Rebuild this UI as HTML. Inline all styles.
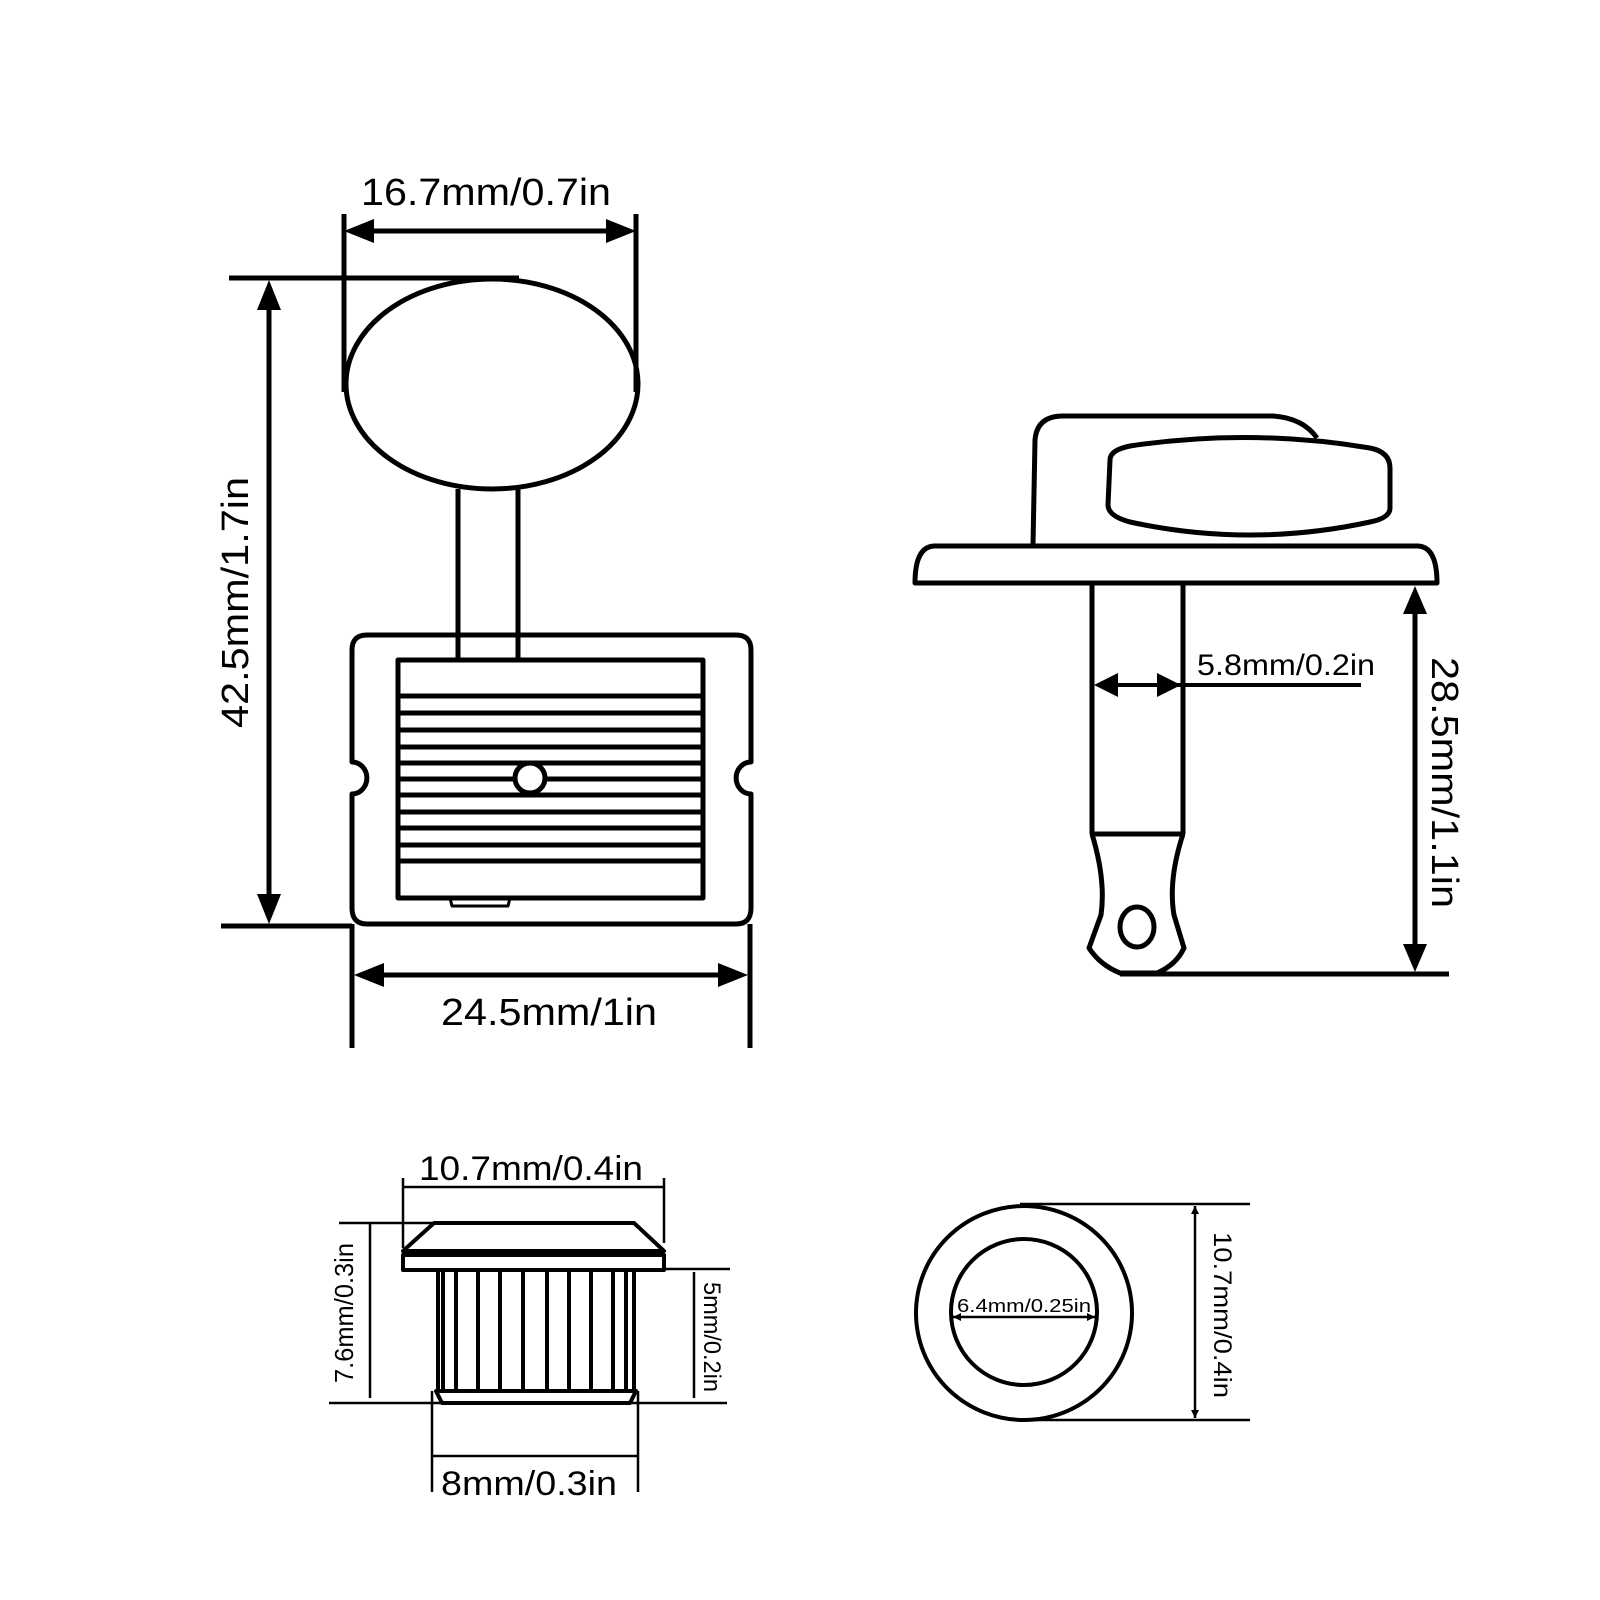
<!DOCTYPE html>
<html><head><meta charset="utf-8"><style>html,body{margin:0;padding:0;background:#fff}svg{display:block}text{font-family:"Liberation Sans","DejaVu Sans",sans-serif;fill:#000}</style></head>
<body>
<svg width="1600" height="1600" viewBox="0 0 1600 1600" xmlns="http://www.w3.org/2000/svg">
<rect width="1600" height="1600" fill="#fff"/>
<g fill="none" stroke="#000" stroke-width="5" stroke-linejoin="round">
  <!-- ===== Front view ===== -->
  <!-- top width dim -->
  <line x1="344" y1="214" x2="344" y2="392"/>
  <line x1="636" y1="214" x2="636" y2="392"/>
  <line x1="360" y1="231" x2="620" y2="231"/>
  <!-- height dim -->
  <line x1="229" y1="278" x2="519" y2="278"/>
  <line x1="221" y1="926" x2="352" y2="926"/>
  <line x1="269" y1="300" x2="269" y2="904"/>
  <!-- knob -->
  <ellipse cx="492" cy="384" rx="146" ry="105"/>
  <!-- stem -->
  <line x1="458" y1="489" x2="458" y2="660"/>
  <line x1="518" y1="489" x2="518" y2="660"/>
  <!-- plate with notches -->
  <path d="M367,635 L736,635 Q751,635 751,650 L751,762 A13,14 0 0 0 751,794 L751,908 Q751,924 736,924 L367,924 Q352,924 352,908 L352,794 A13,14 0 0 0 352,762 L352,650 Q352,635 367,635 Z"/>
  <rect x="398" y="660" width="305" height="238"/>
  <path d="M450,898 L452,906 L508,906 L510,898" stroke-width="3"/>
  <!-- bottom width dim -->
  <line x1="352" y1="924" x2="352" y2="1048"/>
  <line x1="750" y1="924" x2="750" y2="1048"/>
  <line x1="370" y1="975" x2="732" y2="975"/>
</g>
<g stroke="#000" stroke-width="5">
  <line x1="398" y1="696" x2="703" y2="696"/>
  <line x1="398" y1="713" x2="703" y2="713"/>
  <line x1="398" y1="730" x2="703" y2="730"/>
  <line x1="398" y1="747" x2="703" y2="747"/>
  <line x1="398" y1="763" x2="703" y2="763"/>
  <line x1="398" y1="779" x2="703" y2="779"/>
  <line x1="398" y1="795" x2="703" y2="795"/>
  <line x1="398" y1="812" x2="703" y2="812"/>
  <line x1="398" y1="828" x2="703" y2="828"/>
  <line x1="398" y1="845" x2="703" y2="845"/>
  <line x1="398" y1="861" x2="703" y2="861"/>
</g>
<circle cx="530" cy="778" r="15" fill="#fff" stroke="#000" stroke-width="5"/>
<g fill="#000">
  <polygon points="344,231 374,219 374,243"/>
  <polygon points="636,231 606,219 606,243"/>
  <polygon points="269,280 257,310 281,310"/>
  <polygon points="269,924 257,894 281,894"/>
  <polygon points="354,975 384,963 384,987"/>
  <polygon points="748,975 718,963 718,987"/>
</g>
<text x="361" y="205" font-size="38" textLength="250" lengthAdjust="spacingAndGlyphs">16.7mm/0.7in</text>
<text x="441" y="1025" font-size="38" textLength="216" lengthAdjust="spacingAndGlyphs">24.5mm/1in</text>
<text transform="translate(248,728) rotate(-90)" font-size="38" textLength="251" lengthAdjust="spacingAndGlyphs">42.5mm/1.7in</text>

<!-- ===== Side view ===== -->
<g fill="none" stroke="#000" stroke-width="5" stroke-linejoin="round">
  <path d="M1033,545 L1035,440 Q1037,416 1063,416 L1273,416 Q1303,418 1317,438"/>
  <path d="M1110,460 Q1110,450 1130,446 Q1250,428 1370,448 Q1390,452 1390,468 L1390,508 Q1390,518 1370,522 Q1250,548 1130,522 Q1108,516 1108,505 Z" fill="#fff"/>
  <path d="M915,583 L1437,583 Q1437,546 1417,546 L935,546 Q915,546 915,583 Z"/>
  <line x1="1092" y1="584" x2="1092" y2="834"/>
  <line x1="1183" y1="584" x2="1183" y2="834"/>
  <line x1="1090" y1="834" x2="1185" y2="834"/>
  <path d="M1092,834 Q1106,880 1101,915 L1089,948 Q1100,965 1120,973 L1157,973 Q1176,965 1184,948 L1174,915 Q1168,880 1183,834"/>
  <ellipse cx="1137" cy="927" rx="17" ry="20"/>
  <line x1="1120" y1="974" x2="1449" y2="974"/>
  <line x1="1415" y1="605" x2="1415" y2="952"/>
</g>
<line x1="1100" y1="685" x2="1361" y2="685" stroke="#000" stroke-width="4"/>
<g fill="#000">
  <polygon points="1094,685 1118,673 1118,697"/>
  <polygon points="1181,685 1157,673 1157,697"/>
  <polygon points="1415,586 1403,614 1427,614"/>
  <polygon points="1415,972 1403,944 1427,944"/>
</g>
<text x="1197" y="675" font-size="30" textLength="178" lengthAdjust="spacingAndGlyphs">5.8mm/0.2in</text>
<text transform="translate(1432,657) rotate(90)" font-size="38" textLength="251" lengthAdjust="spacingAndGlyphs">28.5mm/1.1in</text>

<!-- ===== Bushing ===== -->
<g fill="none" stroke="#000" stroke-width="2.5">
  <line x1="403" y1="1178" x2="403" y2="1248"/>
  <line x1="664" y1="1178" x2="664" y2="1243"/>
  <line x1="403" y1="1187" x2="664" y2="1187"/>
  <line x1="339" y1="1223" x2="432" y2="1223"/>
  <line x1="370" y1="1223" x2="370" y2="1398"/>
  <line x1="329" y1="1403" x2="727" y2="1403"/>
  <line x1="664" y1="1269" x2="730" y2="1269"/>
  <line x1="694" y1="1272" x2="694" y2="1398"/>
  <line x1="432" y1="1391" x2="432" y2="1492"/>
  <line x1="638" y1="1391" x2="638" y2="1492"/>
  <line x1="432" y1="1456" x2="638" y2="1456"/>
</g>
<g fill="none" stroke="#000" stroke-width="4" stroke-linejoin="round">
  <path d="M434,1223 L634,1223 L664,1251 L403,1251 Z"/>
  <rect x="403" y="1255" width="261" height="15"/>
  <path d="M436,1391 L636,1391 L630,1403 L442,1403 Z"/>
  <line x1="438" y1="1270" x2="438" y2="1391"/>
  <line x1="443" y1="1270" x2="443" y2="1391"/>
  <line x1="456" y1="1270" x2="456" y2="1391"/>
  <line x1="478" y1="1270" x2="478" y2="1391"/>
  <line x1="500" y1="1270" x2="500" y2="1391"/>
  <line x1="523" y1="1270" x2="523" y2="1391"/>
  <line x1="547" y1="1270" x2="547" y2="1391"/>
  <line x1="569" y1="1270" x2="569" y2="1391"/>
  <line x1="591" y1="1270" x2="591" y2="1391"/>
  <line x1="613" y1="1270" x2="613" y2="1391"/>
  <line x1="626" y1="1270" x2="626" y2="1391"/>
  <line x1="634" y1="1270" x2="634" y2="1391"/>
</g>
<text x="419" y="1180" font-size="34" textLength="224" lengthAdjust="spacingAndGlyphs">10.7mm/0.4in</text>
<text x="441" y="1495" font-size="34" textLength="176" lengthAdjust="spacingAndGlyphs">8mm/0.3in</text>
<text transform="translate(353,1383) rotate(-90)" font-size="26" textLength="140" lengthAdjust="spacingAndGlyphs">7.6mm/0.3in</text>
<text transform="translate(704,1282) rotate(90)" font-size="24" textLength="110" lengthAdjust="spacingAndGlyphs">5mm/0.2in</text>

<!-- ===== Ring ===== -->
<g fill="none" stroke="#000" stroke-width="4">
  <ellipse cx="1024" cy="1313" rx="108" ry="107"/>
  <circle cx="1024" cy="1312" r="73"/>
</g>
<g stroke="#000" stroke-width="2.5">
  <line x1="953" y1="1317" x2="1095" y2="1317"/>
  <line x1="1020" y1="1204" x2="1250" y2="1204"/>
  <line x1="1020" y1="1420" x2="1250" y2="1420"/>
  <line x1="1195" y1="1206" x2="1195" y2="1418"/>
</g>
<g fill="#000">
  <polygon points="953,1317 961,1313 961,1321"/>
  <polygon points="1095,1317 1087,1313 1087,1321"/>
  <polygon points="1195,1206 1191,1214 1199,1214"/>
  <polygon points="1195,1418 1191,1410 1199,1410"/>
</g>
<text x="957" y="1312" font-size="18" textLength="134" lengthAdjust="spacingAndGlyphs">6.4mm/0.25in</text>
<text transform="translate(1214,1232) rotate(90)" font-size="25" textLength="166" lengthAdjust="spacingAndGlyphs">10.7mm/0.4in</text>
</svg>
</body></html>
